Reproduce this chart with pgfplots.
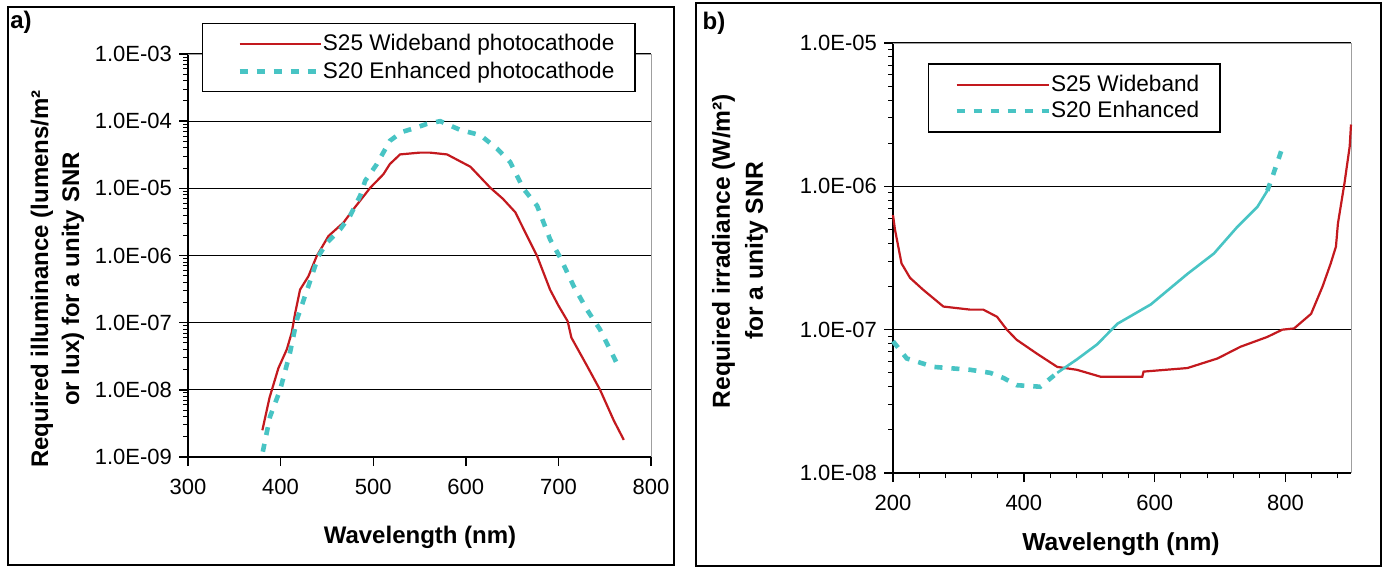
\documentclass[border=0pt]{standalone}
\usepackage{fontspec}
\setmainfont{Liberation Sans}
\usepackage{pgfplots}
\pgfplotsset{compat=1.18}
\definecolor{sred}{RGB}{195,25,30}
\definecolor{scyan}{RGB}{72,196,196}
\tikzset{
 s25/.style={draw=sred, line width=1.1pt},
 s20/.style={draw=scyan, line width=2.3pt, dash pattern=on 4pt off 4.5pt},
}
\pgfplotsset{every tick/.style={black, line width=0.7pt},
  every minor tick/.style={black, line width=0.5pt}}
\begin{document}
\begin{tikzpicture}
\begin{scope}[x=0.5pt,y=0.5pt]
\useasboundingbox (0,0) rectangle (1385,569);
\draw[line width=0.8pt] (8,4) rectangle (674,562);
\draw[line width=0.8pt] (696,3) rectangle (1381,566);
\end{scope}

% ---------- panel a ----------
\begin{axis}[scale only axis, anchor=south west, ymode=log, clip=false,
 axis x line*=bottom, axis y line*=left,
 axis line style={draw=black, line width=0.6pt},
 tick align=outside,
 major tick length=4.5pt, minor tick length=2.5pt,
 ymajorgrids, major grid style={black, line width=0.6pt},
 tick label style={font=\fontsize{11}{13}\selectfont},
 xticklabel style={yshift=-3pt},
 legend cell align=left,
 at={(94pt,56pt)}, width=231.5pt, height=201.5pt,
 xmin=300, xmax=800, ymin=1e-9, ymax=1e-3,
 xtick={300,400,500,600,700,800}, xticklabels={300,400,500,600,700,800},
 ytick={1e-9,1e-8,1e-7,1e-6,1e-5,1e-4,1e-3},
 yticklabels={1.0E-09,1.0E-08,1.0E-07,1.0E-06,1.0E-05,1.0E-04,1.0E-03},
 minor ytick={2e-9,3e-9,4e-9,5e-9,6e-9,7e-9,8e-9,9e-9,
  2e-8,3e-8,4e-8,5e-8,6e-8,7e-8,8e-8,9e-8,
  2e-7,3e-7,4e-7,5e-7,6e-7,7e-7,8e-7,9e-7,
  2e-6,3e-6,4e-6,5e-6,6e-6,7e-6,8e-6,9e-6,
  2e-5,3e-5,4e-5,5e-5,6e-5,7e-5,8e-5,9e-5,
  2e-4,3e-4,4e-4,5e-4,6e-4,7e-4,8e-4,9e-4},
 legend style={at={(0.030,1.077)}, anchor=north west, draw=black, line width=0.7pt, fill=white,
   inner xsep=0pt, inner ysep=3pt, row sep=0pt, column sep=0pt, nodes={inner sep=0pt},
   font=\fontsize{11.3}{13}\selectfont},
 legend image code/.code={\path[draw=none,fill=none] (0pt,-7pt) rectangle (59pt,7pt); \draw[#1] (18.5pt,0pt) -- (59pt,0pt);},
]
\draw[gray!75, line width=0.5pt] (rel axis cs:0,1) -- (rel axis cs:1,1) -- (rel axis cs:1,0);
\addplot[s25] coordinates {
(380.3,2.5e-9) (388,7.6e-9) (397.6,2.1e-8) (406.7,4.0e-8) (412,7.1e-8) (415.7,1.38e-7)
(421,3.1e-7) (430,4.9e-7) (439,9.8e-7) (451.7,1.95e-6) (468,3.1e-6) (478.7,4.9e-6)
(496.8,1.02e-5) (511,1.62e-5) (518,2.3e-5) (529,3.2e-5) (550,3.4e-5) (561.6,3.4e-5)
(579.7,3.2e-5) (604.9,2.1e-5) (626.5,1.02e-5) (640,7.0e-6) (653.5,4.4e-6) (665,2.1e-6)
(677,9.8e-7) (691,3.1e-7) (700,1.8e-7) (710,1.05e-7) (714,6.0e-8) (730,2.4e-8)
(745,1.0e-8) (759.8,3.5e-9) (770.6,1.8e-9)};
\addlegendentry{\makebox[156pt][l]{S25 Wideband photocathode}}
\addplot[s20] coordinates {
(380.8,1.2e-9) (388.6,4.0e-9) (399.5,1.0e-8) (410,3.5e-8) (417.5,1.1e-7) (430,3.5e-7)
(440.9,9.8e-7) (449.9,1.55e-6) (464.3,2.45e-6) (475,3.9e-6) (486,7.8e-6) (491.4,1.3e-5)
(504,2.3e-5) (518,5.1e-5) (531,6.9e-5) (543.6,7.8e-5) (558,9.1e-5) (572.4,1.0e-4)
(594,7.4e-5) (615.7,6.2e-5) (633.7,3.9e-5) (648,2.45e-5) (662.4,9.8e-6) (677,5.5e-6)
(691,1.74e-6) (702,9.3e-7) (716.5,3.5e-7) (731,1.55e-7) (745,7.9e-8) (763,2.5e-8)};
\addlegendentry{\makebox[156pt][l]{S20 Enhanced photocathode}}
\end{axis}

% ---------- panel b ----------
\begin{axis}[scale only axis, anchor=south west, ymode=log, clip=false,
 axis x line*=bottom, axis y line*=left,
 axis line style={draw=black, line width=0.6pt},
 tick align=outside,
 major tick length=4.5pt, minor tick length=2.5pt,
 ymajorgrids, major grid style={black, line width=0.6pt},
 tick label style={font=\fontsize{11}{13}\selectfont},
 xticklabel style={yshift=-3pt},
 legend cell align=left,
 at={(446.5pt,48pt)}, width=229pt, height=215pt,
 xmin=200, xmax=900, ymin=1e-8, ymax=1e-5,
 xtick={200,400,600,800}, xticklabels={200,400,600,800},
 minor xtick={240,280,320,360,440,480,520,560,640,680,720,760,840,880},
 ytick={1e-8,1e-7,1e-6,1e-5}, yticklabels={1.0E-08,1.0E-07,1.0E-06,1.0E-05},
 minor ytick={2e-8,3e-8,4e-8,5e-8,6e-8,7e-8,8e-8,9e-8,
  2e-7,3e-7,4e-7,5e-7,6e-7,7e-7,8e-7,9e-7,
  2e-6,3e-6,4e-6,5e-6,6e-6,7e-6,8e-6,9e-6},
 legend style={at={(0.0764,0.953)}, anchor=north west, draw=black, line width=0.7pt, fill=white,
   inner xsep=0pt, inner ysep=4pt, row sep=0pt, column sep=0pt, nodes={inner sep=0pt},
   font=\fontsize{11.3}{13}\selectfont},
 legend image code/.code={\path[draw=none,fill=none] (0pt,-6.5pt) rectangle (60pt,6.5pt); \draw[#1] (14pt,0pt) -- (60pt,0pt);},
]
\draw[gray!75, line width=0.5pt] (rel axis cs:0,1) -- (rel axis cs:1,1) -- (rel axis cs:1,0);
\addplot[s25] coordinates {
(200,6.3e-7) (203,5.0e-7) (213,2.9e-7) (226,2.3e-7) (246,1.9e-7) (277,1.45e-7)
(318,1.38e-7) (338,1.38e-7) (359,1.23e-7) (374,1.0e-7) (389,8.5e-8) (420,6.8e-8)
(451,5.5e-8) (481,5.25e-8) (517,4.7e-8) (548,4.7e-8) (581,4.7e-8) (583,5.1e-8)
(650,5.4e-8) (696,6.3e-8) (731,7.6e-8) (772,8.9e-8) (795,1.0e-7) (813,1.02e-7)
(839,1.29e-7) (856.5,2.0e-7) (869,2.9e-7) (877,3.8e-7) (880,5.5e-7) (890,1.05e-6)
(898,1.9e-6) (900,2.7e-6)};
\addlegendentry{\makebox[84.5pt][l]{S25 Wideband}}
\addplot[s20] coordinates {
(200,8.3e-8) (221,6.3e-8) (262,5.5e-8) (318,5.25e-8) (348.5,5.0e-8) (369,4.6e-8)
(389,4.1e-8) (425,4.0e-8) (451,5.0e-8)};
\addlegendentry{\makebox[84.5pt][l]{S20 Enhanced}}
\addplot[draw=scyan, line width=1.3pt, forget plot] coordinates {
(451,5.0e-8) (481,6.2e-8) (512,7.9e-8) (543,1.1e-7) (594,1.5e-7) (650,2.45e-7)
(690.5,3.4e-7) (726,5.2e-7) (757,7.2e-7) (772,9.3e-7)};
\addplot[s20, forget plot] coordinates {(772,9.3e-7) (780,1.17e-6) (794,1.8e-6)};
\end{axis}

% ---------- texts ----------
\begin{scope}[x=0.5pt,y=0.5pt]
\node[font=\bfseries\fontsize{12}{14}\selectfont] at (21,547) {a)};
\node[font=\bfseries\fontsize{12}{14}\selectfont] at (714,546) {b)};
\node[rotate=90, align=center, font=\bfseries\fontsize{12}{15.5}\selectfont] at (57.5,290)
  {Required illuminance (lumens/m²\\or lux) for a unity SNR};
\node[rotate=90, align=center, font=\bfseries\fontsize{12.3}{16.5}\selectfont] at (740,318)
  {Required irradiance (W/m²)\\for a unity SNR};
\node[font=\bfseries\fontsize{12}{14}\selectfont] at (420,32) {Wavelength (nm)};
\node[font=\bfseries\fontsize{12.3}{14}\selectfont] at (1121,25) {Wavelength (nm)};
\end{scope}
\end{tikzpicture}
\end{document}
